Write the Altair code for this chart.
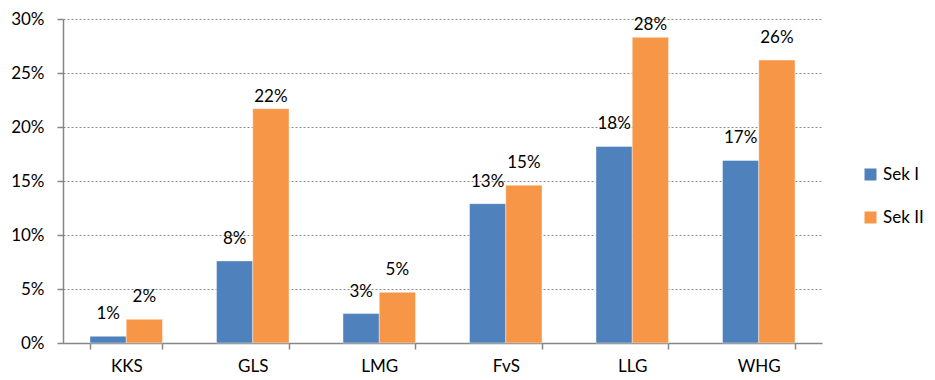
import altair as alt
import pandas as pd

categories = ["KKS", "GLS", "LMG", "FvS", "LLG", "WHG"]
series = ["Sek I", "Sek II"]
sek1 = [0.0062, 0.076, 0.0272, 0.129, 0.182, 0.169]
sek2 = [0.0219, 0.217, 0.0469, 0.146, 0.283, 0.262]
colors = ["#4F81BD", "#F79646"]
y_ticks = [0, 0.05, 0.10, 0.15, 0.20, 0.25, 0.30]
# labels that sit closer to their bar in the original
near_labels = [("GLS", "Sek II"), ("LLG", "Sek II")]

rows = []
for c, a, b in zip(categories, sek1, sek2):
    rows.append({"cat": c, "series": series[0], "value": a})
    rows.append({"cat": c, "series": series[1], "value": b})
df = pd.DataFrame(rows)
df["near"] = [(c, s) in near_labels for c, s in zip(df["cat"], df["series"])]

FONT = "Lato"
FS = 17
AXIS_COLOR = "#868686"

x = alt.X(
    "cat:N",
    sort=categories,
    title=None,
    scale=alt.Scale(paddingInner=0.427, paddingOuter=0.2135),
    axis=alt.Axis(
        labelAngle=0,
        tickBand="extent",
        domainColor=AXIS_COLOR,
        domainWidth=1.5,
        tickColor=AXIS_COLOR,
        tickWidth=1.5,
        tickSize=6,
        labelPadding=9,
        labelFont=FONT,
        labelFontSize=FS,
        labelColor="#000000",
        grid=False,
    ),
)
y = alt.Y(
    "value:Q",
    title=None,
    scale=alt.Scale(domain=[0, 0.3], nice=False),
    axis=alt.Axis(
        values=y_ticks,
        format=".0%",
        domainColor=AXIS_COLOR,
        domainWidth=1.5,
        tickColor=AXIS_COLOR,
        tickWidth=1.5,
        tickSize=6,
        labelPadding=13,
        labelFont=FONT,
        labelFontSize=FS,
        labelColor="#000000",
        grid=True,
        gridColor="#8a8a8a",
        gridDash=[2, 2],
        gridWidth=1,
    ),
)
xo = alt.XOffset("series:N", sort=series, scale=alt.Scale(paddingInner=0, paddingOuter=0))
color = alt.Color(
    "series:N",
    sort=series,
    scale=alt.Scale(domain=series, range=colors),
    legend=alt.Legend(
        title=None,
        orient="none",
        legendX=799,
        legendY=147,
        symbolType="square",
        symbolSize=144,
        symbolStrokeWidth=0,
        labelFont=FONT,
        labelFontSize=FS,
        labelColor="#000000",
        rowPadding=25,
        labelOffset=4,
        padding=0,
    ),
)

bars = alt.Chart(df).mark_bar(stroke="#ffffff", strokeOpacity=0.5, strokeWidth=0.8).encode(
    x=x, y=y, xOffset=xo, color=color
)


def label_layer(flag, dy):
    return (
        alt.Chart(df)
        .transform_filter(alt.datum.near == flag)
        .mark_text(baseline="alphabetic", dy=dy, font=FONT, fontSize=FS, color="#000000")
        .encode(
            x=alt.X("cat:N", sort=categories),
            y=alt.Y("value:Q"),
            xOffset=xo,
            text=alt.Text("value:Q", format=".0%"),
        )
    )


chart = (
    alt.layer(bars, label_layer(False, -17), label_layer(True, -7))
    .properties(
        width=759,
        height=324,
        autosize=alt.AutoSizeParams(type="none"),
        padding={"left": 63, "top": 19, "right": 113, "bottom": 37},
        background="#ffffff",
    )
    .configure_view(stroke=None)
)

chart.save("out.html", embed_options={"renderer": "svg", "actions": False})
